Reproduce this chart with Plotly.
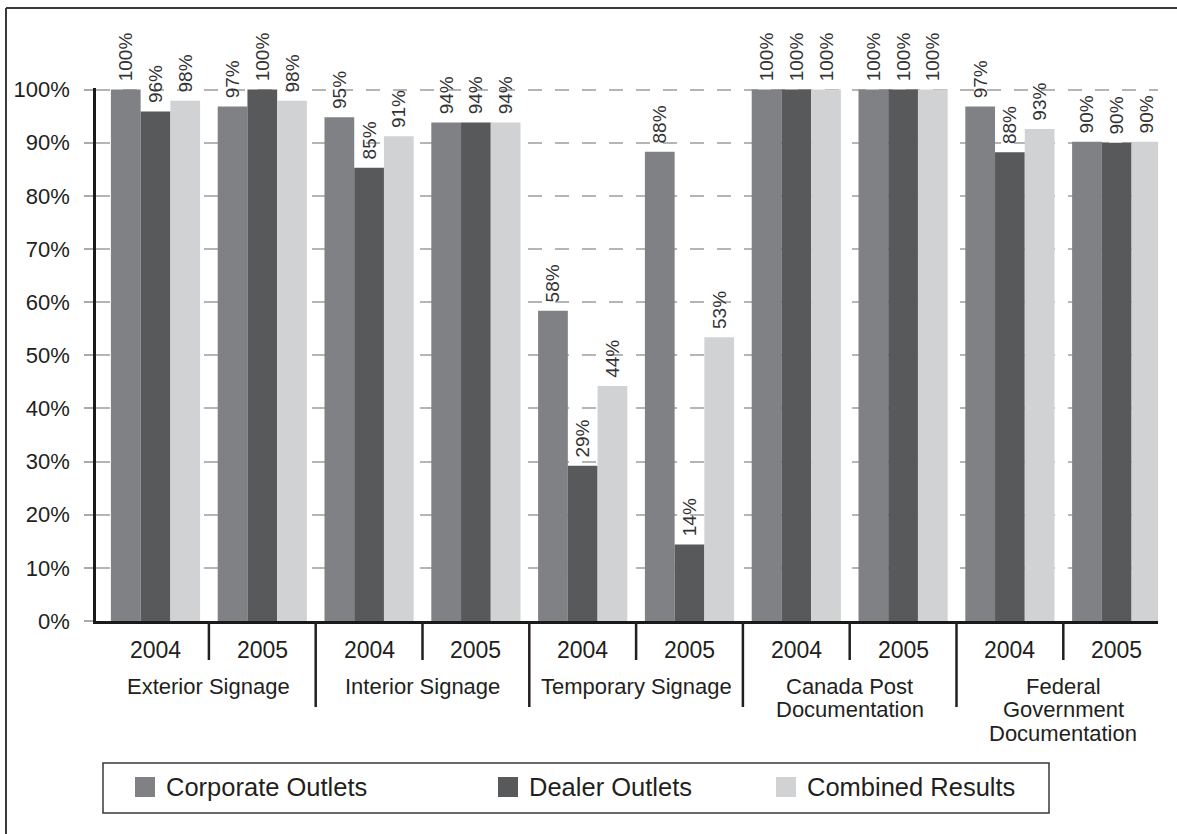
import plotly.graph_objects as go

# ---------------- data ----------------
categories = ["Exterior Signage", "Interior Signage", "Temporary Signage",
              "Canada Post<br>Documentation", "Federal<br>Government<br>Documentation"]
years = ["2004", "2005"]
series_names = ["Corporate Outlets", "Dealer Outlets", "Combined Results"]
corporate = [100, 96.8, 94.8, 93.8, 58.4, 88.3, 100, 100, 96.8, 90.2]
dealer = [95.9, 100, 85.3, 93.8, 29.2, 14.4, 100, 100, 88.2, 90.0]
combined = [97.9, 97.9, 91.2, 93.8, 44.2, 53.4, 100, 100, 92.6, 90.2]
y_ticks = [0, 10, 20, 30, 40, 50, 60, 70, 80, 90, 100]

# ---------------- style ----------------
colors = ["#808185", "#58595b", "#d1d2d4"]
FONT = "Liberation Sans, Arial, sans-serif"
TXT = "#231f20"
W, H = 1177, 834
L, R, T, B = 96, 19, 88, 213
PW, PH = W - L - R, H - T - B


def px_x(p):
    return (p - L) / PW


def px_y(p):
    return (H - B - p) / PH


n_groups = len(categories) * len(years)
x_pos = list(range(n_groups))
series_values = [corporate, dealer, combined]

fig = go.Figure()
for name, vals, col in zip(series_names, series_values, colors):
    fig.add_trace(go.Bar(
        x=x_pos, y=vals, name=name, marker=dict(color=col, line=dict(width=0)),
        text=["\u00a0" + f"{round(v)}%" for v in vals], textposition="outside",
        textangle=-90, constraintext="none", cliponaxis=False,
        textfont=dict(family=FONT, size=19, color="#333333"),
        showlegend=False,
    ))

shapes = []
annotations = []

# year labels and separators
for i in x_pos:
    annotations.append(dict(x=i, y=px_y(650), xref="x", yref="paper",
                            text=years[i % 2], showarrow=False,
                            font=dict(family=FONT, size=23, color=TXT),
                            xanchor="center", yanchor="middle"))
for i in range(n_groups - 1):
    long_sep = (i % 2 == 1)
    shapes.append(dict(type="line", xref="x", yref="paper",
                       x0=i + 0.5, x1=i + 0.5, y0=0,
                       y1=px_y(707 if long_sep else 660),
                       line=dict(color="#231f20", width=2.5)))

# category labels (line by line)
for c, cat in enumerate(categories):
    lines = cat.split("<br>")
    for k, ln in enumerate(lines):
        annotations.append(dict(x=2 * c + 0.5, y=px_y(686 + 23.5 * k),
                                xref="x", yref="paper", text=ln,
                                showarrow=False,
                                font=dict(family=FONT, size=22, color=TXT),
                                xanchor="center", yanchor="middle"))

# outer border (top and left edges only are visible in the frame)
shapes.append(dict(type="line", xref="paper", yref="paper",
                   x0=px_x(6), x1=px_x(1177), y0=px_y(8), y1=px_y(8),
                   line=dict(color="#3a3a3a", width=2)))
shapes.append(dict(type="line", xref="paper", yref="paper",
                   x0=px_x(6), x1=px_x(6), y0=px_y(8), y1=px_y(834),
                   line=dict(color="#3a3a3a", width=2)))

# legend box
shapes.append(dict(type="rect", xref="paper", yref="paper",
                   x0=px_x(103), x1=px_x(1049), y0=px_y(763), y1=px_y(813),
                   line=dict(color="#3a3a3a", width=1.5)))
leg_marker_x = [135, 498, 776]
for name, col, mx in zip(series_names, colors, leg_marker_x):
    shapes.append(dict(type="rect", xref="paper", yref="paper",
                       x0=px_x(mx), x1=px_x(mx + 20), y0=px_y(777), y1=px_y(797),
                       fillcolor=col, line=dict(width=0)))
    annotations.append(dict(x=px_x(mx + 29), y=px_y(787), xref="paper", yref="paper",
                            text=name, showarrow=False,
                            font=dict(family=FONT, size=25.5, color=TXT),
                            xanchor="left", yanchor="middle"))

x0 = (96 - 155.5) / 106.8
x1 = (1158 - 155.5) / 106.8

fig.update_layout(
    width=W, height=H,
    margin=dict(l=L, r=R, t=T, b=B, pad=0),
    paper_bgcolor="white", plot_bgcolor="white",
    barmode="group", bargap=0.165, bargroupgap=0,
    shapes=shapes, annotations=annotations,
    xaxis=dict(range=[x0, x1], showticklabels=False, showgrid=False,
               zeroline=False, showline=True, linecolor="#1a1a1a",
               linewidth=2.5, ticks=""),
    yaxis=dict(range=[0, 100.3], tickvals=y_ticks,
               ticktext=[f"{v}%" for v in y_ticks],
               showgrid=True, gridcolor="#b5b5b5", gridwidth=1.5,
               griddash="14px,13px", zeroline=False,
               showline=True, linecolor="#1a1a1a", linewidth=2.5,
               ticks="outside", ticklen=9, tickwidth=1.5, tickcolor="#aaaaaa",
               ticklabelstandoff=10,
               tickfont=dict(family=FONT, size=22, color=TXT)),
)

fig.write_html("out.html", config={"displayModeBar": False})
